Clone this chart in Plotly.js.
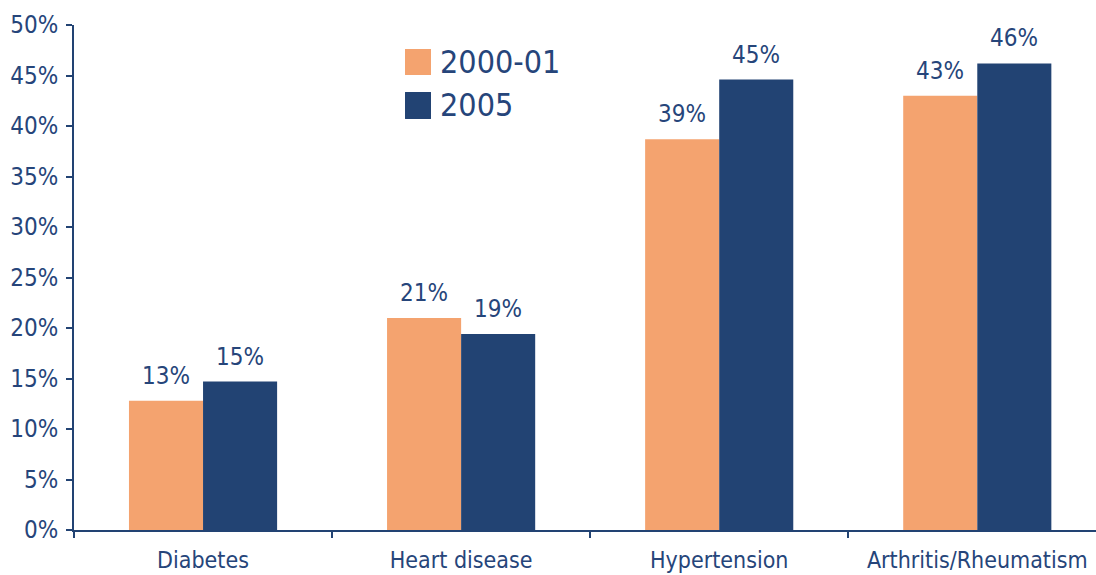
<!DOCTYPE html>
<html>
<head>
<meta charset="utf-8">
<script src="https://cdn.plot.ly/plotly-3.0.1.min.js"></script>
<style>html,body{margin:0;padding:0;background:#fff;}#chart{width:1096px;height:575px;}</style>
</head>
<body>
<div id="chart"></div>
<script>
const categories = ["Diabetes", "Heart disease", "Hypertension", "Arthritis/Rheumatism"];
const series2000 = [12.8, 21.0, 38.7, 43.0];
const series2005 = [14.7, 19.4, 44.6, 46.2];
const seriesNames = ["2000-01", "2005"];

const FONT = '"Liberation Sans Narrow", "DejaVu Sans Condensed", "Liberation Sans", sans-serif';
const TEXT = '#26457a';
const ORANGE = '#F4A36F';
const NAVY = '#224373';
const COLORS = [ORANGE, NAVY];

const traces = [
  {type: 'bar', name: seriesNames[0], x: categories, y: series2000, marker: {color: ORANGE}, showlegend: false},
  {type: 'bar', name: seriesNames[1], x: categories, y: series2005, marker: {color: NAVY}, showlegend: false}
];

const annotations = [];
[[series2000, -37], [series2005, 37]].forEach(([vals, shift]) => {
  vals.forEach((v, i) => {
    annotations.push({
      x: categories[i], y: v, xref: 'x', yref: 'y',
      text: Math.round(v) + '%', showarrow: false,
      xshift: shift, yshift: 9, yanchor: 'bottom',
      font: {family: FONT, size: 24, color: TEXT}
    });
  });
});

// legend drawn as swatches + labels
const shapes = [];
const legendRows = [{y0: 0.901, y1: 0.9525, ty: 0.9267}, {y0: 0.8139, y1: 0.8673, ty: 0.8416}];
seriesNames.forEach((name, k) => {
  const r = legendRows[k];
  shapes.push({type: 'rect', xref: 'paper', yref: 'paper', x0: 0.3239, x1: 0.3493, y0: r.y0, y1: r.y1,
               fillcolor: COLORS[k], line: {width: 0}});
  annotations.push({xref: 'paper', yref: 'paper', x: 0.3562, y: r.ty, xanchor: 'left', yanchor: 'middle',
                    text: name, showarrow: false, font: {family: FONT, size: 32, color: TEXT}});
});

const layout = {
  width: 1096, height: 575,
  margin: {l: 74, r: 0, t: 25, b: 45, pad: 0},
  paper_bgcolor: '#fff', plot_bgcolor: '#fff',
  barmode: 'group', bargap: 0.426, bargroupgap: 0,
  font: {family: FONT, color: TEXT},
  showlegend: false,
  xaxis: {
    type: 'category', range: [-0.5, 3.46],
    showline: true, linecolor: NAVY, linewidth: 2,
    ticks: 'outside', tickson: 'boundaries', ticklen: 6, tickwidth: 2, tickcolor: NAVY,
    tickfont: {family: FONT, size: 23, color: TEXT}, ticklabelstandoff: 8,
    showgrid: false, zeroline: false
  },
  yaxis: {
    range: [0, 50], dtick: 5, tick0: 0, ticksuffix: '%',
    showline: true, linecolor: NAVY, linewidth: 2,
    ticks: 'outside', ticklen: 6, tickwidth: 2, tickcolor: NAVY,
    tickfont: {family: FONT, size: 24, color: TEXT}, ticklabelstandoff: 3,
    showgrid: false, zeroline: false
  },
  shapes: shapes,
  annotations: annotations
};

Plotly.newPlot('chart', traces, layout, {displayModeBar: false, staticPlot: true});
</script>
</body>
</html>
